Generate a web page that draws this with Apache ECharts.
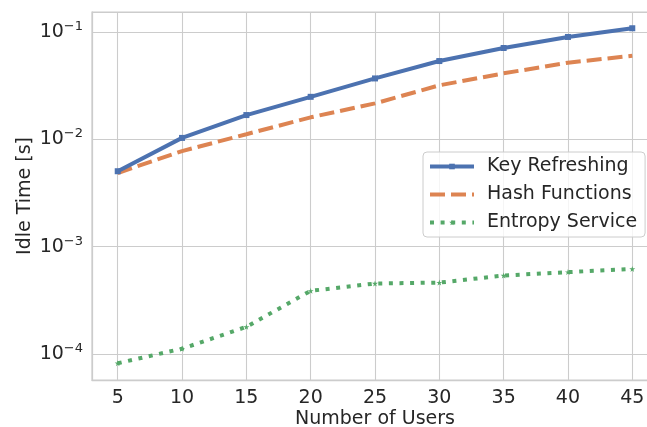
<!DOCTYPE html>
<html>
<head>
<meta charset="utf-8">
<script src="https://cdn.jsdelivr.net/npm/echarts@6/dist/echarts.min.js"></script>
<style>
  html, body { margin: 0; padding: 0; background: #fff; }
  #main { width: 647px; height: 427px; }
</style>
</head>
<body>
<div id="main"></div>
<script>
// data
var users = [5, 10, 15, 20, 25, 30, 35, 40, 45];
var xTicks = [5, 10, 15, 20, 25, 30, 35, 40, 45];
var keyRefreshing = [5.06e-3, 1.035e-2, 1.69e-2, 2.5e-2, 3.71e-2, 5.39e-2, 7.13e-2, 9.04e-2, 0.109];
var hashFunctions = [4.87e-3, 7.8e-3, 1.12e-2, 1.61e-2, 2.17e-2, 3.2e-2, 4.14e-2, 5.2e-2, 6.04e-2];
var entropyService = [8.2e-5, 1.12e-4, 1.79e-4, 3.88e-4, 4.54e-4, 4.63e-4, 5.39e-4, 5.8e-4, 6.2e-4];

var textColor = '#262626';
var gridColor = '#cccccc';
var font = 'DejaVu Sans';
var star = 'path://M50,0 L61,35 L98,35 L68,57 L79,91 L50,70 L21,91 L32,57 L2,35 L39,35 Z';

function pairs(xs, ys) {
    return xs.map((x, i) => [x, ys[i]]);
}

var myChart = echarts.init(document.getElementById('main'), null, { renderer: 'canvas' });

var option = {
    animation: false,
    textStyle: { fontFamily: font, color: textColor },
    grid: {
        left: 92, top: 12, width: 566, height: 368,
        show: true, borderColor: gridColor, borderWidth: 1.25,
        containLabel: false, outerBoundsMode: 'none'
    },
    legend: {
        orient: 'vertical',
        left: 423, top: 152,
        padding: [5, 8, 5, 5],
        backgroundColor: 'rgba(255,255,255,0.8)',
        borderColor: gridColor, borderWidth: 1, borderRadius: 4,
        itemWidth: 44, itemHeight: 7, itemGap: 9,
        lineStyle: { width: 4 },
        textStyle: { fontFamily: font, fontSize: 19, color: textColor, padding: [0, 0, 0, 8] },
        data: [
            { name: 'Key Refreshing' },
            { name: 'Hash Functions', itemStyle: { opacity: 0 } },
            { name: 'Entropy Service' }
        ]
    },
    xAxis: {
        type: 'value',
        min: 3, max: 47,
        name: 'Number of Users',
        nameLocation: 'middle', nameGap: 30, nameMoveOverlap: false,
        nameTextStyle: { fontFamily: font, fontSize: 19, color: textColor },
        axisLine: { show: true, lineStyle: { color: gridColor, width: 1.25 } },
        axisTick: { show: false, customValues: xTicks },
        axisLabel: { customValues: xTicks, fontFamily: font, fontSize: 19, color: textColor, margin: 9 },
        splitLine: { show: true, lineStyle: { color: gridColor, width: 1.1 } }
    },
    yAxis: {
        type: 'log', logBase: 10,
        min: 5.72e-5, max: 0.1545,
        name: 'Idle Time [s]',
        nameLocation: 'middle', nameGap: 57, nameMoveOverlap: false,
        nameTextStyle: { fontFamily: font, fontSize: 19, color: textColor },
        axisLine: { show: true, lineStyle: { color: gridColor, width: 1.25 } },
        axisTick: { show: false },
        minorTick: { show: false },
        axisLabel: {
            showMinLabel: false, showMaxLabel: false,
            margin: 9,
            formatter: function (v) {
                var e = Math.round(Math.log10(v));
                return '{b|10}{s|\u2212' + Math.abs(e) + '}';
            },
            rich: {
                b: { fontFamily: font, fontSize: 19, color: textColor, lineHeight: 24 },
                s: { fontFamily: font, fontSize: 13, color: textColor, lineHeight: 14, verticalAlign: 'top' }
            }
        },
        splitLine: { show: true, lineStyle: { color: gridColor, width: 1.1 } }
    },
    series: [{
        name: 'Key Refreshing',
        type: 'line',
        data: pairs(users, keyRefreshing),
        color: '#4C72B0',
        lineStyle: { width: 4, color: '#4C72B0' },
        symbol: 'rect', symbolSize: 6, showSymbol: true,
        itemStyle: { color: '#4C72B0' },
        z: 3
    }, {
        name: 'Hash Functions',
        type: 'line',
        data: pairs(users, hashFunctions),
        color: '#DD8452',
        lineStyle: { width: 4, color: '#DD8452', type: [15, 6], cap: 'butt' },
        symbol: 'none',
        itemStyle: { color: '#DD8452' },
        z: 2
    }, {
        name: 'Entropy Service',
        type: 'line',
        data: pairs(users, entropyService),
        color: '#55A868',
        lineStyle: { width: 4, color: '#55A868', type: [4, 6.6], cap: 'butt' },
        symbol: star, symbolSize: 6,
        itemStyle: { color: '#55A868' },
        z: 1
    }]
};

myChart.setOption(option);
</script>
</body>
</html>
